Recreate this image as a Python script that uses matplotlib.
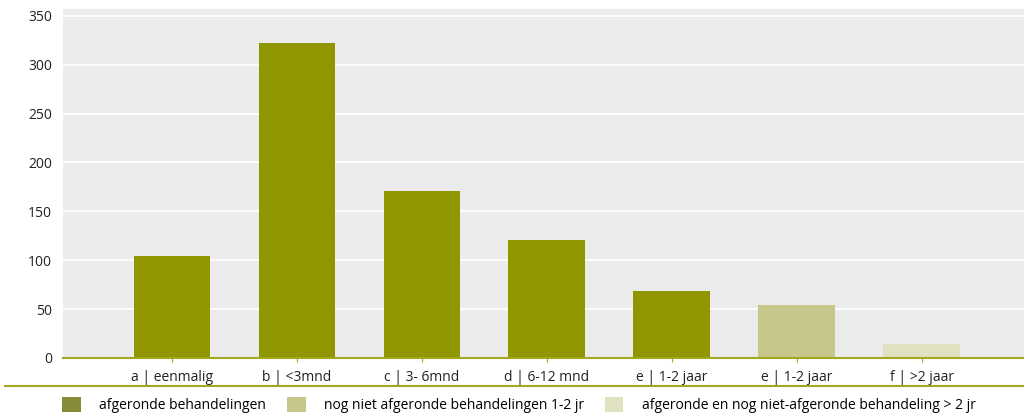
import matplotlib
matplotlib.use("Agg")
import numpy as np
import matplotlib.pyplot as plt
from matplotlib.patches import Patch
from matplotlib.lines import Line2D

categories = ['a | eenmalig', 'b | <3mnd', 'c | 3- 6mnd', 'd | 6-12 mnd',
              'e | 1-2 jaar', 'e | 1-2 jaar', 'f | >2 jaar']
values = [104, 322, 171, 121, 69, 54, 14]
groups = [0, 0, 0, 0, 0, 1, 2]
legend_labels = ['afgeronde behandelingen',
                 'nog niet afgeronde behandelingen 1-2 jr',
                 'afgeronde en nog niet-afgeronde behandeling > 2 jr']

bar_cols = ['#8f9600', '#c7c78b', '#e0e1c1']
leg_cols = ['#878b37', '#c7c78b', '#e0e1c1']
olive = '#a3a820'

plt.rcParams['font.family'] = ['Open Sans', 'DejaVu Sans']

fig = plt.figure(figsize=(10.24, 4.19), dpi=100)
ax = fig.add_axes([0.0615, 0.1456, 0.9385, 0.833])
ax.set_facecolor('#ebebeb')

x = np.arange(len(categories))
ax.bar(x, values, width=0.61, color=[bar_cols[g] for g in groups], zorder=3)

ax.set_ylim(0, 357)
ax.set_xlim(-0.87, 6.82)
ax.set_yticks(np.arange(0, 351, 50))
ax.yaxis.grid(True, color='white', linewidth=1.2, zorder=1)
ax.set_axisbelow(True)
ax.set_xticks(x)
ax.set_xticklabels(categories)
for s in ['top', 'right', 'left']:
  ax.spines[s].set_visible(False)
ax.spines['bottom'].set_color(olive)
ax.spines['bottom'].set_linewidth(1.5)
ax.spines['bottom'].set_zorder(4)
ax.tick_params(axis='y', length=0, labelsize=10, pad=8, colors='#222222')
ax.tick_params(axis='x', length=3, color=olive, labelsize=10, pad=6, labelcolor='#222222')

# separator line above legend
fig.add_artist(Line2D([0.005, 1.0], [1 - 386/419, 1 - 386/419], color=olive, linewidth=1.5))

handles = [Patch(facecolor=c, edgecolor='none') for c in leg_cols]
fig.legend(handles, legend_labels, loc='center left', bbox_to_anchor=(0.061, 1 - 405/419),
           ncol=3, frameon=False, fontsize=10, handlelength=1.35, handleheight=1.35,
           handletextpad=1.3, columnspacing=1.5, borderaxespad=0, borderpad=0)

fig.savefig('out.png', dpi=100)
